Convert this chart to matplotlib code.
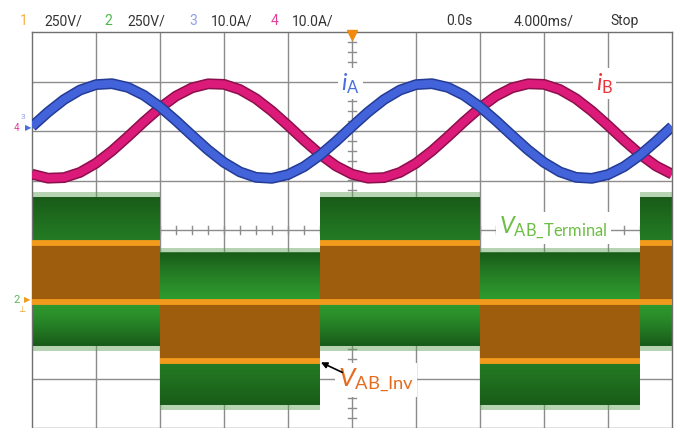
import numpy as np
import matplotlib
matplotlib.use("Agg")
import matplotlib.pyplot as plt
from matplotlib.colors import to_rgb

time_ms = list(range(-20, 21))          # samples 1 ms apart (4 ms/div, 10 div)
i_A = [0.90, 3.81, 6.35, 8.27, 9.37, 9.56, 8.81, 7.20, 4.89, 2.09, -0.90,
       -3.81, -6.35, -8.27, -9.37, -9.56, -8.81, -7.20, -4.89, -2.09, 0.90,
       3.81, 6.35, 8.27, 9.37, 9.56, 8.81, 7.20, 4.89, 2.09, -0.90,
       -3.81, -6.35, -8.27, -9.37, -9.56, -8.81, -7.20, -4.89, -2.09, 0.90]
i_B = [-8.72, -9.53, -9.42, -8.37, -6.51, -4.01, -1.12, 1.88, 4.69, 7.06, 8.72,
       9.53, 9.42, 8.37, 6.51, 4.01, 1.12, -1.88, -4.69, -7.06, -8.72,
       -9.53, -9.42, -8.37, -6.51, -4.01, -1.12, 1.88, 4.69, 7.06, 8.72,
       9.53, 9.42, 8.37, 6.51, 4.01, 1.12, -1.88, -4.69, -7.06, -8.72]

block_edges_ms = [-20, -12, -2, 8, 18, 20]
term_top_V = [530, 250, 530, 250, 530]       # V_AB_Terminal envelope
term_bottom_V = [-220, -520, -220, -520, -220]
inv_top_V = [300, 0, 300, 0, 300]            # V_AB_Inv switching band
inv_bottom_V = [0, -300, 0, -300, 0]

header_texts = ["1", "250V/", "2", "250V/", "3", "10.0A/", "4", "10.0A/",
                "0.0s", "4.000ms/", "Stop"]

# scope settings
V_PER_DIV = 250.0
A_PER_DIV = 10.0
V_OFFSET_DIV = -1.455
I_OFFSET_DIV = 2.0

def vdiv(v):
    return np.asarray(v, dtype=float) / V_PER_DIV + V_OFFSET_DIV

def idiv(i):
    return np.asarray(i, dtype=float) / A_PER_DIV + I_OFFSET_DIV

# ---------------- figure ----------------
W, H = 685, 428
fig = plt.figure(figsize=(W / 100, H / 100), dpi=100)
fig.patch.set_facecolor("white")
ax = fig.add_axes([32 / W, 0.0, 640 / W, 396 / H])
ax.set_xlim(-20, 20)
ax.set_ylim(-4, 4)
ax.set_xticks([])
ax.set_yticks([])
for s in ax.spines.values():
    s.set_color("#707070")
    s.set_linewidth(1.0)

grid_c = "#8c8c8c"
for x in np.arange(-16, 20, 4):
    ax.axvline(x, color=grid_c, lw=1.0, zorder=1)
for y in np.arange(-3, 4, 1):
    ax.axhline(y, color=grid_c, lw=1.0, zorder=1)
# minor ticks on the centre axes
for x in np.arange(-19, 20, 1):
    ax.plot([x, x], [-0.08, 0.08], color=grid_c, lw=1.0, zorder=1)
for y in np.arange(-3.8, 4.0, 0.2):
    ax.plot([-0.25, 0.25], [y, y], color=grid_c, lw=1.0, zorder=1)

# ---------------- V_AB_Terminal (green) ----------------
dark = np.array(to_rgb("#195c19"))
bright = np.array(to_rgb("#2f9c2f"))
zero = float(vdiv(0))
for k in range(len(term_top_V)):
    t0, t1 = block_edges_ms[k], block_edges_ms[k + 1]
    top = float(vdiv(term_top_V[k]))
    bot = float(vdiv(term_bottom_V[k]))
    n = 60
    ys = np.linspace(top, bot, n)
    img = np.zeros((n, 1, 3))
    for j, yy in enumerate(ys):
        if yy >= zero:
            f = (yy - zero) / (top - zero)
        else:
            f = (zero - yy) / (zero - bot)
        f = min(max(f, 0), 1) ** 1.3
        img[j, 0] = bright * (1 - f) + dark * f
    ax.imshow(img, extent=[t0, t1, bot, top], aspect="auto",
              interpolation="bilinear", zorder=2)
    # spiky fringe (averaged look)
    ax.fill_between([t0, t1], top, top + 0.1, color="#5e9e55", alpha=0.45,
                    lw=0, zorder=2)
    ax.fill_between([t0, t1], bot - 0.1, bot, color="#5e9e55", alpha=0.45,
                    lw=0, zorder=2)

# ---------------- V_AB_Inv (orange) ----------------
orange = "#f29a1c"
brown = "#9e5d0d"
for k in range(len(inv_top_V)):
    t0, t1 = block_edges_ms[k], block_edges_ms[k + 1]
    ax.fill_between([t0, t1], vdiv(inv_bottom_V[k]), vdiv(inv_top_V[k]),
                    color=brown, lw=0, zorder=3)
    lvl = inv_top_V[k] if inv_top_V[k] != 0 else inv_bottom_V[k]
    ax.plot([t0, t1], [vdiv(lvl)] * 2, color=orange, lw=4.2,
            solid_capstyle="butt", zorder=4)
ax.plot([-20, 20], [zero, zero], color=orange, lw=4.2, zorder=4)

# ---------------- currents ----------------
ax.plot(time_ms, idiv(i_B), color="#8c0f4c", lw=7.8, zorder=5,
        solid_capstyle="butt")
ax.plot(time_ms, idiv(i_B), color="#dc1a7a", lw=5.6, zorder=5,
        solid_capstyle="butt")
ax.plot(time_ms, idiv(i_A), color="#243c96", lw=7.8, zorder=6,
        solid_capstyle="butt")
ax.plot(time_ms, idiv(i_A), color="#4263da", lw=5.6, zorder=6,
        solid_capstyle="butt")

# trigger marker
ax.plot([0], [3.93], marker="v", ms=7, color="#f08a10", zorder=7,
        clip_on=False)

# ---------------- labels ----------------
plt.rcParams["mathtext.fontset"] = "custom"
plt.rcParams["mathtext.rm"] = "Lato"
plt.rcParams["mathtext.it"] = "Lato:italic"
box = dict(facecolor="white", edgecolor="none", pad=2)
ax.text(-0.1, 2.96, r"$i_{\mathrm{A}}$", color="#4a6fdc", fontsize=17,
        ha="center", va="center", bbox=box, zorder=8)
ax.text(15.8, 2.96, r"$i_{\mathrm{B}}$", color="#e8343a", fontsize=17,
        ha="center", va="center", bbox=box, zorder=8)
ax.text(9.2, 0.04, r"$V_{\mathrm{AB\_Terminal}}$", color="#6dbe45",
        fontsize=17, ha="left", va="center", bbox=box, zorder=8)
ax.text(-0.9, -3.03, r"$V_{\mathrm{AB\_Inv}}$", color="#e36c1e",
        fontsize=19, ha="left", va="center", bbox=box, zorder=8)
ax.annotate("", xy=(-2.1, -2.65), xytext=(-0.45, -2.9),
            arrowprops=dict(arrowstyle="-|>", color="black", lw=1.2,
                            mutation_scale=9), zorder=9)

# ---------------- header ----------------
hfont = ["Roboto", "DejaVu Sans"]
hx = [20, 44, 104, 127, 189, 211, 271, 292, 446, 514, 610]
hc = ["#f5b041", "#333333", "#4cb84c", "#333333", "#8fa0ea", "#333333",
      "#e0409a", "#333333", "#333333", "#333333", "#333333"]
for txt, x, c in zip(header_texts, hx, hc):
    fig.text(x / W, 1 - 21 / H, txt, color=c, fontsize=10, family=hfont,
             ha="left", va="center")

# channel markers on the left edge
fig.text(17 / W, 1 - 128 / H, "4", color="#e0409a", fontsize=7,
         ha="center", va="center", family=hfont)
fig.text(23 / W, 1 - 117 / H, "3", color="#8fa0ea", fontsize=6,
         ha="center", va="center", family=hfont)
fig.text(28 / W, 1 - 128 / H, "\u25b6", color="#4a6fdc", fontsize=6,
         ha="center", va="center", family=["DejaVu Sans"])
fig.text(17 / W, 1 - 300 / H, "2", color="#5cb85c", fontsize=8,
         ha="center", va="center", family=hfont)
fig.text(27 / W, 1 - 300 / H, "\u25b6", color="#f29a1c", fontsize=6,
         ha="center", va="center", family=["DejaVu Sans"])
fig.text(22 / W, 1 - 310 / H, "\u22a5", color="#f29a1c", fontsize=6,
         ha="center", va="center", family=["DejaVu Sans"])

fig.savefig("out.png", dpi=100, facecolor="white")
